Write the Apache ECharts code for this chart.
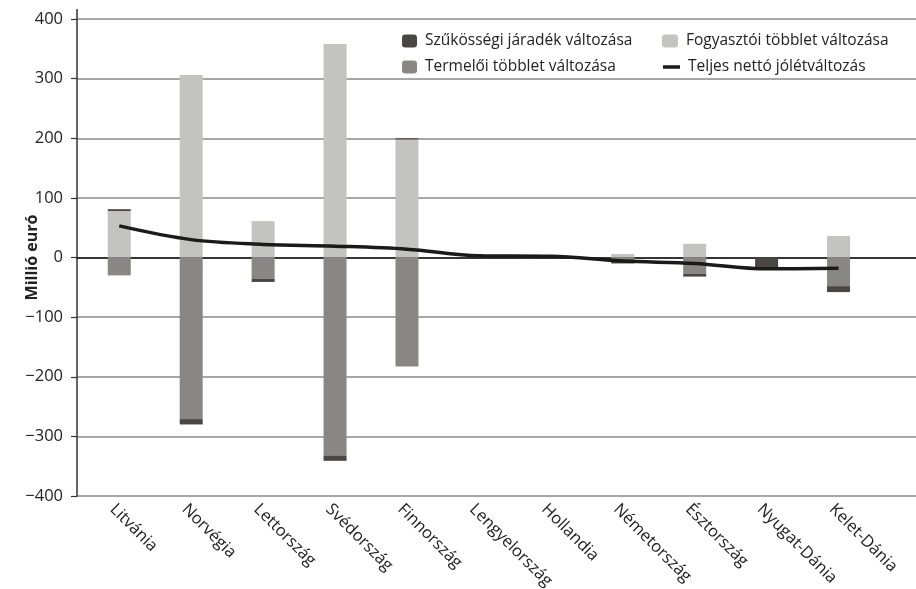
<!DOCTYPE html>
<html><head><meta charset="utf-8">
<script src="https://cdn.jsdelivr.net/npm/echarts@6/dist/echarts.min.js"></script>
<style>html,body{margin:0;padding:0;background:#fff}#c{width:916px;height:589px}</style>
</head><body><div id="c"></div>
<script>
const categories = ['Litvánia','Norvégia','Lettország','Svédország','Finnország','Lengyelország','Hollandia','Németország','Észtország','Nyugat-Dánia','Kelet-Dánia'];
const consumerSurplus = [78, 306, 61, 358, 198, 0, 0, 6, 23, 0, 36];
const producerSurplus = [-30, -271, -36, -332, -183, 0, 0, -3, -27, 0, -48];
const congestionRent = [3, -9, -5, -9, 2, 0, 0, -7, -5, -17, -10];
const netWelfare = [53, 30, 22, 19, 14, 3, 2, -6, -10, -19, -18];
const yTicks = {min: -400, max: 400, interval: 100};

const FONT = 'Open Sans';
const legendText = {fontFamily: FONT, fontSize: 15.5, color: '#222', padding: [0, 0, 0, 3]};
function oneLegend(name, left, top, w, h, icon) {
  const l = {left: left, top: top, itemWidth: w, itemHeight: h, textStyle: legendText, data: [name]};
  if (icon) l.icon = icon;
  return l;
}
const chart = echarts.init(document.getElementById('c'), null, {renderer: 'canvas'});
chart.setOption({
  animation: false,
  textStyle: {fontFamily: FONT},
  grid: [
    {left: 77, right: 0, top: 19, bottom: 93, outerBoundsMode: 'none', containLabel: false},
    {left: 83.3, right: 41.5, top: 19, bottom: 93, outerBoundsMode: 'none', containLabel: false}
  ],
  legend: [
    oneLegend('Szűkösségi járadék változása', 397, 28, 15, 13),
    oneLegend('Termelői többlet változása', 397, 54, 15, 13),
    oneLegend('Fogyasztói többlet változása', 657, 28, 16, 13),
    oneLegend('Teljes nettó jólétváltozás', 658, 54, 17, 3.5, 'rect')
  ],
  xAxis: [
    {type: 'category', gridIndex: 0, data: categories,
     axisLine: {show: true, onZero: true, lineStyle: {color: '#111', width: 1.5}},
     axisTick: {show: false}, axisLabel: {show: false}, splitLine: {show: false}},
    {type: 'category', gridIndex: 1, data: categories,
     axisLine: {show: false}, axisTick: {show: false},
     axisLabel: {rotate: -45, fontSize: 16.5, color: '#222', margin: 4, fontFamily: FONT,
                 verticalAlign: 'top', align: 'left', padding: [1, 0, 0, 0]}}
  ],
  yAxis: [
    {type: 'value', gridIndex: 0, min: yTicks.min, max: yTicks.max, interval: yTicks.interval,
     name: 'Millió euró', nameLocation: 'middle', nameGap: 37, nameMoveOverlap: false,
     nameTextStyle: {fontFamily: FONT, fontSize: 16, fontWeight: 'bold', color: '#222'},
     axisLine: {show: true, lineStyle: {color: '#333', width: 1.5}},
     axisTick: {show: true, length: 6, lineStyle: {color: '#333', width: 1.2}},
     axisLabel: {fontSize: 16.5, color: '#222', margin: 14, fontFamily: FONT,
                 formatter: v => v < 0 ? '\u2212' + Math.abs(v) : String(v)},
     splitLine: {show: true, lineStyle: {color: '#8a8a8a', width: 1.5}}},
    {type: 'value', gridIndex: 1, min: yTicks.min, max: yTicks.max, interval: yTicks.interval,
     show: false, splitLine: {show: false}}
  ],
  graphic: [
    {type: 'line', shape: {x1: 77, y1: 9, x2: 77, y2: 19}, style: {stroke: '#333', lineWidth: 1.5}}
  ],
  series: [
    {name: 'Fogyasztói többlet változása', type: 'bar', xAxisIndex: 1, yAxisIndex: 1, stack: 'w',
     barWidth: 23, itemStyle: {color: '#c3c3c1'}, data: consumerSurplus},
    {name: 'Termelői többlet változása', type: 'bar', xAxisIndex: 1, yAxisIndex: 1, stack: 'w',
     barWidth: 23, itemStyle: {color: '#888784'}, data: producerSurplus},
    {name: 'Szűkösségi járadék változása', type: 'bar', xAxisIndex: 1, yAxisIndex: 1, stack: 'w',
     barWidth: 23, itemStyle: {color: '#4a4643'}, data: congestionRent},
    {name: 'Teljes nettó jólétváltozás', type: 'line', xAxisIndex: 1, yAxisIndex: 1,
     symbol: 'none', smooth: 0.35, z: 5,
     lineStyle: {color: '#1a1a1a', width: 3.5}, itemStyle: {color: '#1a1a1a'}, data: netWelfare}
  ]
});
</script></body></html>
